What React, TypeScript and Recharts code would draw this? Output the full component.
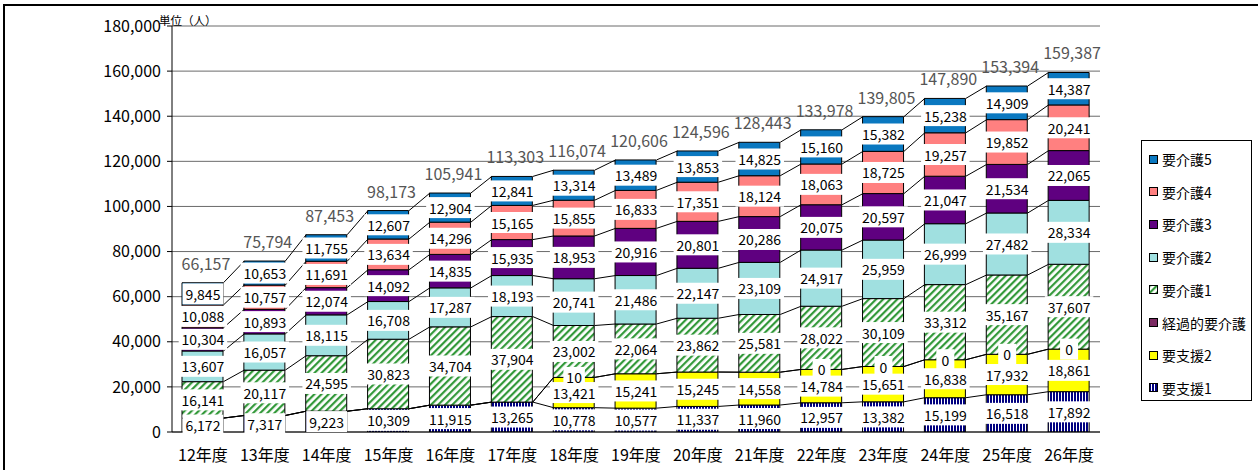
import React from 'react';
import {
  ComposedChart,
  Bar,
  XAxis,
  YAxis,
  CartesianGrid,
  ReferenceLine,
  ReferenceDot,
} from 'recharts';

// ---------- data ----------
const categories = [
  '12年度', '13年度', '14年度', '15年度', '16年度', '17年度', '18年度', '19年度',
  '20年度', '21年度', '22年度', '23年度', '24年度', '25年度', '26年度',
];

const yTicks = [0, 20000, 40000, 60000, 80000, 100000, 120000, 140000, 160000, 180000];

const seriesNames = ['要支援1', '要支援2', '経過的要介護', '要介護1', '要介護2', '要介護3', '要介護4', '要介護5'];
const seriesKeys = ['shien1', 'shien2', 'keika', 'kaigo1', 'kaigo2', 'kaigo3', 'kaigo4', 'kaigo5'];

const shien1 = [6172, 7317, 9223, 10309, 11915, 13265, 10778, 10577, 11337, 11960, 12957, 13382, 15199, 16518, 17892];
const shien2 = [null, null, null, null, null, null, 13421, 15241, 15245, 14558, 14784, 15651, 16838, 17932, 18861];
const keika = [null, null, null, null, null, null, 10, null, null, null, 0, 0, 0, 0, 0];
const kaigo1 = [16141, 20117, 24595, 30823, 34704, 37904, 23002, 22064, 23862, 25581, 28022, 30109, 33312, 35167, 37607];
const kaigo2 = [13607, 16057, 18115, 16708, 17287, 18193, 20741, 21486, 22147, 23109, 24917, 25959, 26999, 27482, 28334];
const kaigo3 = [10304, 10893, 12074, 14092, 14835, 15935, 18953, 20916, 20801, 20286, 20075, 20597, 21047, 21534, 22065];
const kaigo4 = [10088, 10757, 11691, 13634, 14296, 15165, 15855, 16833, 17351, 18124, 18063, 18725, 19257, 19852, 20241];
const kaigo5 = [9845, 10653, 11755, 12607, 12904, 12841, 13314, 13489, 13853, 14825, 15160, 15382, 15238, 14909, 14387];

const seriesValues: (number | null)[][] = [shien1, shien2, keika, kaigo1, kaigo2, kaigo3, kaigo4, kaigo5];

// ---------- styles ----------
const FONT = '"Noto Sans CJK JP", "Noto Sans", sans-serif';
const BAR_SIZE = 41;
const seriesFills = [
  'url(#pat-shien1)',
  '#ffff00',
  '#7b2a62',
  'url(#pat-kaigo1)',
  '#a0e0e0',
  '#5f0080',
  '#ff8080',
  '#0a78c0',
];

// ---------- derived table ----------
const data = categories.map((name, i) => {
  const row: Record<string, any> = { name };
  seriesKeys.forEach((k, s) => {
    row[k] = seriesValues[s][i] ?? 0;
  });
  return row;
});

const cumulative = seriesValues.map((_, s) =>
  categories.map((__, i) =>
    seriesValues.slice(0, s + 1).reduce((acc, arr) => acc + (arr[i] ?? 0), 0)
  )
);
const totals = cumulative[cumulative.length - 1];

const fmt = (v: number) => v.toLocaleString('en-US');

const textWidth = (t: string, fs: number) =>
  [...t].reduce((w, c) => w + (c === ',' ? 0.27 : 0.553) * fs, 0);

function SegmentLabel(props: any) {
  const { cx, cy, text } = props;
  if (cx == null || cy == null) return null;
  const w = Math.max(textWidth(text, 14) + 6, 18);
  return (
    <g>
      <rect x={cx - w / 2} y={cy - 10.5} width={w} height={21} fill="#fff" />
      <text x={cx} y={cy} textAnchor="middle" dominantBaseline="central" fontSize={14} fill="#000" fontFamily={FONT}>
        {text}
      </text>
    </g>
  );
}

function TotalLabel(props: any) {
  const { cx, cy, text } = props;
  if (cx == null || cy == null) return null;
  return (
    <text x={cx + 3} y={cy - 20} textAnchor="middle" dominantBaseline="central" fontSize={16} fill="#555" fontFamily={FONT}>
      {text}
    </text>
  );
}

function SeriesLine(props: any) {
  const { x1, y1, x2, y2 } = props;
  if ([x1, y1, x2, y2].some((v) => v == null || isNaN(v))) return null;
  const half = BAR_SIZE / 2;
  return <line x1={x1 + half} y1={y1} x2={x2 - half} y2={y2} stroke="#000" strokeWidth={1} />;
}

function Swatch({ fill }: { fill: string }) {
  return (
    <svg width={9} height={9} style={{ display: 'block' }}>
      <rect x={0.5} y={0.5} width={8} height={8} fill={fill} stroke="#000" strokeWidth={1} />
    </svg>
  );
}

export default function App() {
  const legendOrder = seriesNames.map((n, i) => ({ name: n, fill: seriesFills[i] })).reverse();

  const seriesLines: React.ReactNode[] = [];
  cumulative.forEach((cum, s) => {
    for (let i = 0; i < categories.length - 1; i++) {
      seriesLines.push(
        <ReferenceLine
          key={`sl-${s}-${i}`}
          segment={[
            { x: categories[i], y: cum[i] },
            { x: categories[i + 1], y: cum[i + 1] },
          ]}
          ifOverflow="visible"
          shape={SeriesLine}
        />
      );
    }
  });

  const segLabels: React.ReactNode[] = [];
  seriesValues.forEach((arr, s) => {
    arr.forEach((v, i) => {
      if (v == null) return;
      const center = cumulative[s][i] - v / 2;
      const text = fmt(v);
      segLabels.push(
        <ReferenceDot
          key={`lb-${s}-${i}`}
          x={categories[i]}
          y={center}
          r={0}
          ifOverflow="visible"
          shape={(p: any) => <SegmentLabel cx={p.cx} cy={p.cy} text={text} />}
        />
      );
    });
  });

  const totalLabels = totals.map((t, i) => (
    <ReferenceDot
      key={`tot-${i}`}
      x={categories[i]}
      y={t}
      r={0}
      ifOverflow="visible"
      shape={(p: any) => <TotalLabel cx={p.cx} cy={p.cy} text={fmt(t)} />}
    />
  ));

  return (
    <div
      style={{
        position: 'absolute',
        left: 0,
        top: 0,
        width: 1258,
        height: 470,
        background: '#fff',
        fontFamily: FONT,
        overflow: 'hidden',
      }}
    >
      <svg width={0} height={0} style={{ position: 'absolute' }}>
        <defs>
          <pattern id="pat-kaigo1" patternUnits="userSpaceOnUse" width={5} height={5} patternTransform="rotate(45)">
            <rect width={5} height={5} fill="#fff" />
            <rect width={2.2} height={5} fill="#33993a" />
          </pattern>
          <pattern id="pat-shien1" patternUnits="userSpaceOnUse" width={3} height={3}>
            <rect width={3} height={3} fill="#fff" />
            <rect width={2} height={3} fill="#000080" />
          </pattern>
        </defs>
      </svg>

      {/* outer frame */}
      <div
        style={{
          position: 'absolute',
          left: 3,
          top: 4,
          width: 1258,
          height: 470,
          borderTop: '2px solid #000',
          borderLeft: '2px solid #000',
        }}
      />

      <div style={{ position: 'absolute', left: 0, top: 0 }}>
        <ComposedChart
          width={1258}
          height={470}
          data={data}
          margin={{ top: 26, right: 158, bottom: 8, left: 0 }}
          barCategoryGap="17%"
        >
          <CartesianGrid vertical={false} stroke="#6a6a6a" />
          <XAxis
            dataKey="name"
            interval={0}
            tickLine={false}
            axisLine={{ stroke: '#000' }}
            tick={{ fontSize: 16, fill: '#000' }}
            tickMargin={12}
            height={30}
          />
          <YAxis
            domain={[0, 180000]}
            ticks={yTicks}
            tickFormatter={fmt}
            width={172}
            tick={{ fontSize: 16, fill: '#000' }}
            tickLine={{ stroke: '#000' }}
            tickSize={5}
            tickMargin={6}
            axisLine={{ stroke: '#000' }}
            allowDataOverflow
          />
          <YAxis
            yAxisId="right"
            orientation="right"
            domain={[0, 180000]}
            width={0}
            tick={false}
            tickLine={false}
            axisLine={{ stroke: '#888' }}
          />
          {seriesKeys.map((k, s) => (
            <Bar
              key={k}
              dataKey={k}
              name={seriesNames[s]}
              stackId="total"
              fill={seriesFills[s]}
              stroke="#000"
              strokeWidth={1}
              barSize={BAR_SIZE}
              isAnimationActive={false}
            />
          ))}
          {seriesLines}
          {segLabels}
          {totalLabels}
        </ComposedChart>
      </div>

      {/* unit label */}
      <div style={{ position: 'absolute', left: 159, top: 12, fontSize: 11.5, lineHeight: '16px', color: '#000' }}>
        単位（人）
      </div>

      {/* legend */}
      <div
        style={{
          position: 'absolute',
          left: 1141,
          top: 140,
          width: 109,
          height: 259,
          border: '1px solid #000',
          background: '#fff',
        }}
      >
        {legendOrder.map((item, i) => (
          <div
            key={item.name}
            style={{
              position: 'absolute',
              left: 7,
              top: 8 + i * 32.7,
              height: 20,
              display: 'flex',
              alignItems: 'center',
              fontSize: 14,
              color: '#000',
              whiteSpace: 'nowrap',
            }}
          >
            <Swatch fill={item.fill} />
            <span style={{ marginLeft: 4 }}>{item.name}</span>
          </div>
        ))}
      </div>
    </div>
  );
}
